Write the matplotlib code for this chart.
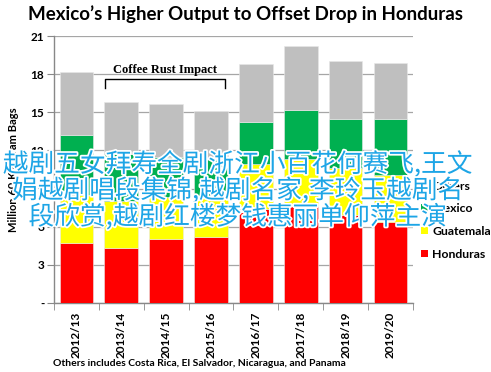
import numpy as np
import matplotlib
matplotlib.use('Agg')
import matplotlib.pyplot as plt
import matplotlib.patheffects as pe
from matplotlib.patches import Patch

# data (million 60 kg bags)
years = ['2012/13', '2013/14', '2014/15', '2015/16', '2016/17', '2017/18', '2018/19', '2019/20']
honduras = [4.7, 4.35, 5.0, 5.2, 7.4, 7.6, 6.9, 6.4]
guatemala = [3.8, 3.65, 3.3, 3.05, 3.5, 3.7, 3.7, 3.65]
mexico = [4.7, 3.75, 3.2, 3.1, 3.3, 3.9, 3.9, 4.45]
others = [4.95, 4.05, 4.15, 3.75, 4.6, 5.0, 4.55, 4.4]

series = [('Honduras', honduras, '#FF0000'),
          ('Guatemala', guatemala, '#FFFF00'),
          ('Mexico', mexico, '#00B050'),
          ('Others', others, '#BFBFBF')]

yticks = [0, 3, 6, 9, 12, 15, 18, 21]
ytick_labels = ['-', '3', '6', '9', '12', '15', '18', '21']

font = ['Lato', 'DejaVu Sans']
plt.rcParams['font.family'] = font

fig = plt.figure(figsize=(4.91, 3.72), dpi=100)
ax = fig.add_axes([0.11, 0.1855, 0.731, 0.7177])

x = np.arange(len(years))
bottom = np.zeros(len(years))
for name, vals, col in series:
    ax.bar(x, vals, 0.75, bottom=bottom, color=col, edgecolor='#e8e8e8',
           linewidth=0.4, zorder=3)
    bottom += np.array(vals)

ax.set_xlim(-0.5, len(years) - 0.5)
ax.set_ylim(0, 21)
ax.set_yticks(yticks)
ax.set_yticklabels(ytick_labels, fontsize=8.5, fontweight='bold')
ax.yaxis.grid(True, color='#a6a6a6', linewidth=0.9, zorder=0)
ax.set_axisbelow(True)

ax.set_xticks(x)
ax.set_xticklabels(years, rotation=90, fontsize=8.5, fontweight='bold')
ax.set_xticks(np.arange(-0.5, len(years)), minor=True)
ax.tick_params(axis='x', which='major', length=0, pad=6)
ax.tick_params(axis='x', which='minor', length=5, color='#888888')
ax.tick_params(axis='y', length=5, color='#888888', pad=2)

for s in ['top', 'right']:
    ax.spines[s].set_visible(False)
for s in ['left', 'bottom']:
    ax.spines[s].set_color('#888888')
    ax.spines[s].set_linewidth(1.0)

ax.set_ylabel('Million 60 Kilogram Bags', fontsize=8, fontweight='bold', labelpad=8)

# coffee rust bracket
ax.plot([0.64, 0.64, 3.31, 3.31], [16.9, 17.6, 17.6, 16.9], color='black',
        linewidth=1.0, zorder=5, clip_on=False)
ax.text(1.98, 18.3, 'Coffee Rust Impact', ha='center', va='center', fontsize=9,
        fontweight='bold', family='Liberation Serif', zorder=5)

fig.text(0.5, 0.962, 'Mexico\u2019s Higher Output to Offset Drop in Honduras',
         ha='center', va='center', fontsize=13.5, fontweight='bold')

fig.text(0.107, 0.022, 'Others includes Costa Rica, El Salvador, Nicaragua, and Panama',
         ha='left', va='center', fontsize=7.5, fontweight='bold')

handles = [Patch(facecolor=c, label=n) for n, v, c in series[::-1]]
fig.legend(handles=handles, loc='upper left', bbox_to_anchor=(0.848, 0.527),
           frameon=False, prop={'size': 8.8, 'weight': 'bold'},
           handlelength=0.55, handleheight=0.55, handletextpad=0.35,
           labelspacing=0.95, borderaxespad=0)

overlay = ('越剧五女拜寿全剧浙江小百花何赛飞,王文\n'
           '娟越剧唱段集锦,越剧名家,李玲玉越剧名\n'
           '段欣赏,越剧红楼梦钱惠丽单仰萍主演')
fig.text(0.485, 0.487, overlay, ha='center', va='center', fontsize=18.5,
         color='#1DA5E6', family=['Noto Sans CJK SC', 'DejaVu Sans'],
         linespacing=0.98, zorder=10,
         path_effects=[pe.withStroke(linewidth=2.5, foreground='white')])

fig.savefig('out.png', dpi=100)
